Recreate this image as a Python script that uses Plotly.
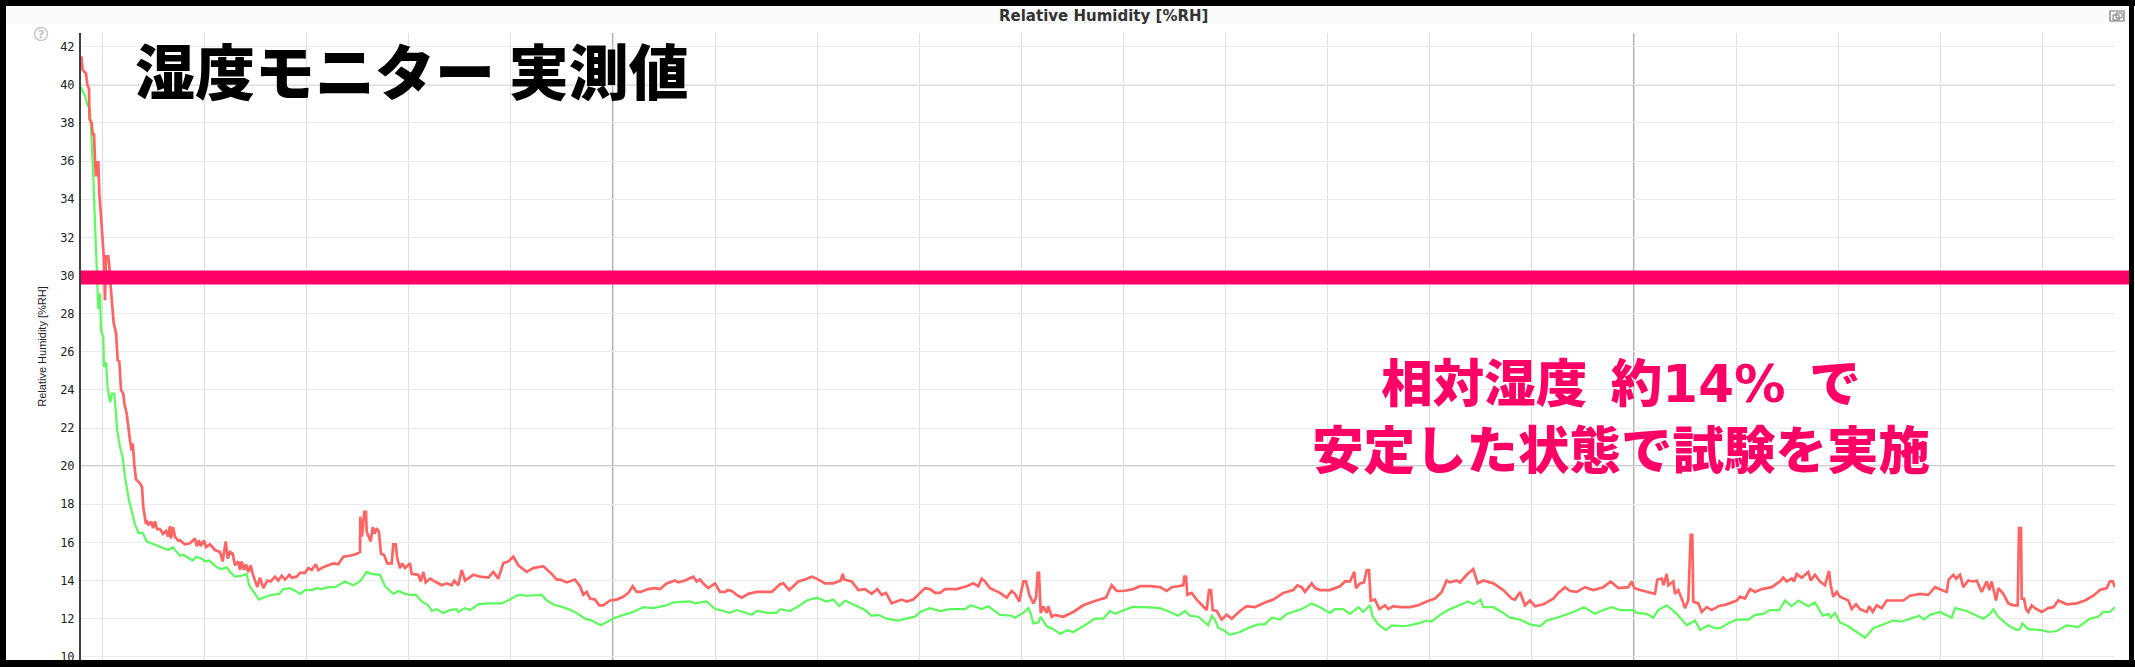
import plotly.graph_objects as go

W, H = 2135, 667
L, R, T, B = 81, 2115, 33, 660
Y_MIN, Y_MAX = 9.83, 42.72

y_ticks = list(range(10, 44, 2))
y_major = [20, 30, 40]
x_major = [613, 1634]
threshold = [29.9]

red = [(81.5,41.5),(82,41.2),(82.5,40.8),(84,40.7),(86,40.6),(87.3,40.0),(89,39.8),(89.5,38.2),(91.7,38.0),(92.7,37.4),(94,37.4),(95,36.05),(96,35.2),(96.7,36.0),(97.5,35.2),(98.3,36.0),(99.3,34.3),(101,33.1),(102.7,32.0),(104,30.8),(105,28.7),(106,31.0),(108.3,31.0),(109.3,30.5),(110.7,29.4),(112.3,28.35),(113.7,27.5),(116,27.0),(117.7,25.55),(119.3,25.5),(121,24.0),(123.3,23.8),(124.3,23.3),(126.7,22.75),(128.3,22.0),(130,21.35),(131.7,20.8),(132.7,21.2),(134.3,20.1),(136,19.3),(140,19.1),(142,18.9),(143.3,17.85),(145.7,17.05),(147,17.1),(148.3,16.9),(151,17.1),(153,16.75),(155,17.1),(157,16.7),(160,16.7),(163,16.45),(166,16.6),(168,16.3),(170,16.85),(171,16.2),(173,16.8),(175,16.3),(178,16.1),
(180,16.1),(185,15.9),(190,15.95),(195,16.2),(196.7,15.8),(199,16.1),(200.7,15.8),(204,16.1),(206,15.75),(210,15.9),(215,15.6),(220,15.5),(222.7,15.0),(225.7,16.05),(227.7,15.15),(230,15.5),(232.7,15.4),(235,14.8),(238.3,15.0),(240,14.55),(241.7,15.0),(244,14.55),(246,14.85),(248.3,14.45),(250.7,14.8),(252.7,14.35),(255,14.0),(257.3,13.65),(260,14.15),(263.3,13.6),(267.3,14.0),(270.7,13.95),(275,14.2),(278.3,14.0),(281.7,14.25),(285,14.05),(289.3,14.3),(291.7,14.15),(296.7,14.2),(300,14.4),(305,14.4),(308.3,14.65),(311.7,14.55),(315.7,14.85),(318.3,14.55),(323.3,14.7),(328.3,14.8),(333.3,14.9),(338.3,14.85),(343.3,15.25),(350,15.3),(356.7,15.4),(360,15.5),(360.3,17.35),(362,16.3),(363,16.9),(364.3,17.6),(366,17.6),(366.7,16.55),(370.7,16.05),(372.7,16.8),(374.7,16.45),(376.7,16.75),(379,16.55),(381,15.4),(384,15.35),(387.3,14.9),(391.7,14.9),(393.3,15.9),(395.7,15.9),(397.3,15.15),(400,14.65),(402.3,14.9),(405,14.65),(410,14.9),(411.7,14.35),(418.3,14.3),(420.7,13.95),(423.3,14.45),(425.7,13.9),(430,14.1),(435,13.95),(441.7,13.75),(446.7,13.85),(451.7,13.75),(454.3,14.0),(458.3,13.75),(461.7,14.55),(465,14.0),(473.3,14.3),(480,14.2),(488.3,14.15),(493.3,14.45),(498.3,14.1),(503.3,14.9),(508.3,15.0),(513.3,15.25),(518.3,14.8),(526.7,14.45),(533.3,14.65),(543.3,14.75),(551.7,14.35),(556.7,14.05),
(560,14.05),(566.7,13.9),(575,14.05),(580,13.7),(583.3,13.25),(586.7,13.4),(590,13.05),(595,13.0),(599.3,12.7),(603.3,12.7),(610,12.95),(616.7,13.0),(623.3,13.15),(628.3,13.35),(632.7,13.7),(636.7,13.4),(640.7,13.4),(648.3,13.55),(655,13.6),(660,13.55),(666.7,13.85),(675,14.0),(678.3,13.9),(685,14.0),(693.3,14.2),(696.7,13.95),(700,14.05),(704,13.8),(708.3,13.6),(715,13.85),(720,13.4),(725,13.4),(728,13.5),(731.7,13.45),(736.7,13.25),(741.7,13.1),(748.3,13.3),(756.7,13.4),(763.3,13.4),(771.7,13.4),(780,13.8),(783.3,13.85),(789.3,13.5),(798.3,13.95),(805,14.05),(811.7,14.2),(816.7,14.1),(825,13.85),(833.3,13.85),(840.7,14.0),(842.7,14.35),(844.3,14.05),(851.7,13.95),(858.3,13.5),(865,13.55),(871.7,13.3),(877.3,13.55),(881.7,13.25),(886,13.35),(891.7,12.8),(901.7,13.0),(906.7,12.9),(913.3,13.0),(918.3,13.25),(925,13.6),(930,13.55),(935,13.35),
(940,13.35),(945,13.55),(956.7,13.55),(966.7,13.7),(973.3,13.85),(978.3,13.7),(981.7,14.1),(985,13.95),(990,13.6),(1000,13.35),(1006.7,13.1),(1011.7,13.45),(1015,13.3),(1019.3,12.9),(1023.3,13.95),(1026,13.95),(1029.3,13.25),(1033.3,12.8),(1036,13.1),(1037.7,14.4),(1039,14.4),(1040.7,12.3),(1043.3,12.65),(1046.7,12.3),(1048.3,12.65),(1051.7,12.1),(1055,12.2),(1063.3,12.1),(1073.3,12.35),(1083.3,12.7),(1093.3,12.9),(1106,13.1),(1111.7,13.75),(1116.7,13.45),(1123.3,13.45),(1133.3,13.55),(1140,13.7),(1150,13.7),(1160,13.65),(1166.7,13.45),(1171.7,13.65),(1183.3,13.75),(1184.3,14.2),(1186,14.2),(1187.3,13.25),(1191.7,13.35),(1196.7,13.0),(1206.7,12.45),(1209,13.5),(1211,13.5),(1212.7,12.45),(1216.7,12.4),(1221.7,11.95),(1226.7,12.2),(1231.7,12.0),(1240,12.4),(1246.7,12.65),(1255,12.6),(1265,12.85),(1273.3,13.0),(1283.3,13.35),(1293.3,13.5),(1297.3,13.75),(1301.7,13.65),(1305,13.4),(1311.7,13.85),(1315,13.6),
(1320,13.5),(1330,13.5),(1340,13.7),(1345,13.95),(1350,13.95),(1354.3,14.45),(1356,13.6),(1360,13.85),(1364,13.9),(1366.7,14.55),(1369,14.55),(1370.7,12.95),(1375,13.0),(1379.3,12.5),(1385,12.7),(1388.3,12.5),(1393.3,12.65),(1400,12.6),(1410,12.6),(1418.3,12.7),(1426.7,12.9),(1435,13.05),(1441.7,13.4),(1446.7,14.0),(1450,13.9),(1456.7,14.0),(1460,13.9),(1466.7,14.3),(1473.3,14.6),(1477.7,13.85),(1483.3,14.0),(1493.3,13.85),(1503.3,13.5),(1511.7,13.05),(1515,13.0),(1520,13.4),(1525,12.7),(1530,12.95),(1535,12.65),(1543.3,12.75),(1553.3,13.05),(1558.3,13.35),(1565,13.65),(1570,13.45),(1576.7,13.4),(1585,13.65),(1593.3,13.5),(1603.3,13.65),(1610.7,13.95),(1618.3,13.6),(1628.3,13.65),(1631.7,13.95),(1634.3,13.6),(1640,13.5),(1648.3,13.4),(1655,13.3),(1657.3,14.05),(1661.7,14.1),(1663.5,13.75),(1666.7,14.35),(1668.3,13.75),(1673.3,13.95),(1675,13.3),(1678.3,13.5),(1681.7,13.05),(1685,12.55),(1688.3,12.95),(1690.7,16.4),(1692.3,16.4),(1693.3,12.9),(1698.3,12.8),(1701.7,12.35),(1706.7,12.6),(1711.7,12.45),(1718.3,12.65),
(1726.7,12.75),(1736.7,12.95),(1740,13.15),(1745,13.05),(1750,13.55),(1755,13.4),(1761.7,13.55),(1771.7,13.65),(1780,13.95),(1783.3,14.15),(1786.7,13.95),(1791.7,14.1),(1794,13.95),(1796.7,14.35),(1801.7,14.15),(1808.3,14.45),(1810.7,14.0),(1815,14.3),(1820,13.95),(1825,13.75),(1826.7,14.1),(1829,14.5),(1830.7,13.75),(1833.3,13.15),(1836.7,13.4),(1840,13.15),(1848.3,12.95),(1851.7,12.5),(1856,12.75),(1860,12.5),(1866.7,12.35),(1869.3,12.65),(1872.7,12.35),(1876.7,12.7),(1881.7,12.55),(1886.7,12.95),(1893.3,12.95),(1903.3,12.95),(1910,13.2),(1920,13.3),(1928.3,13.25),(1935,13.65),(1941.7,13.5),(1946.7,13.4),(1948.7,14.05),(1953.3,14.3),(1956,14.1),(1960,14.3),(1963.3,13.65),(1968.3,14.0),(1973.3,13.95),(1976.7,14.0),(1981.7,13.4),(1986.7,13.95),(1989.3,13.5),(1991.7,13.95),(1996,12.95),(1998.3,13.6),(2003.3,13.3),(2008.3,12.8),(2013.3,12.7),(2017.7,12.7),(2019,16.75),(2021,16.75),(2021.7,13.05),(2024,13.05),(2026,12.5),(2028.3,12.35),(2031.7,12.7),(2035,12.55),(2041.7,12.35),(2048.3,12.55),(2053.3,12.6),(2058.3,12.95),(2066.7,12.75),(2076.7,12.8),(2085,12.95),(2093.3,13.2),(2100,13.5),(2106.7,13.6),(2110,13.95),(2112.7,13.95),(2115,13.65)]

green = [(81,39.9),(81.7,39.75),(85,39.45),(87.3,38.95),(90,38.75),(91,37.8),(92,36.15),(93.3,35.2),(94,34.15),(95,32.65),(96,31.75),(97.3,29.4),(98.3,28.25),(100,29.05),(101,27.1),(103.3,26.8),(104,25.2),(106,25.45),(107.7,24.05),(110,23.35),(112,23.8),(114.3,23.8),(116,22.9),(117.3,21.85),(120,21.0),(122.7,20.45),(125,19.4),(126.7,18.9),(129,18.2),(131.7,17.65),(135,16.95),(138.3,16.5),(142.7,16.5),(146.7,16.05),(151.7,15.95),(160,15.8),(168.3,15.6),(172.7,15.75),(176.7,15.5),(180,15.3),
(183.3,15.35),(188.3,15.2),(192.7,15.05),(196,15.25),(201.7,15.15),(205,15.0),(209.3,15.05),(213.3,14.85),(218.3,14.65),(221.7,14.6),(226.7,14.7),(230,14.45),(235,14.2),(241.7,14.25),(246.7,14.35),(249,13.75),(253.3,13.4),(259,13.0),(263.3,13.1),(271.7,13.25),(279.3,13.3),(283.3,13.55),(290,13.6),(295,13.45),(300.7,13.3),(305,13.5),(311.7,13.5),(316.7,13.6),(321.7,13.55),(328.3,13.65),(335,13.65),(345,13.95),(353.3,13.75),(360,13.95),(366.7,14.45),(371.7,14.35),(380,14.3),(385,13.7),(393.3,13.3),(398.3,13.45),(405,13.3),(410,13.25),(416,13.25),(421.7,12.9),(428.3,12.7),(431.7,12.4),(436.7,12.5),(443.3,12.3),(450,12.45),(456.7,12.5),(458.3,12.35),(465,12.55),(470,12.45),(478.3,12.75),(486.7,12.8),(501.7,12.8),(510,13.0),(518.3,13.25),(526.7,13.2),(541.7,13.25),(546.7,12.95),(555,12.7),
(560,12.65),(568.3,12.5),(576.7,12.3),(585,12.0),(591.7,11.9),(600.7,11.65),(608.3,11.85),(615,12.05),(626.7,12.25),(633.3,12.35),(643.3,12.6),(653.3,12.55),(666.7,12.7),(673.3,12.85),(690,12.9),(695,12.8),(706.7,12.9),(715,12.5),(723.3,12.4),(730,12.3),(736.7,12.45),(751.7,12.2),(756.7,12.4),(768.3,12.3),(776.7,12.3),(780,12.5),(790,12.4),(800,12.7),(806.7,12.95),(816.7,13.1),(826.7,12.9),(833.3,13.0),(839.3,12.65),(845,12.95),(855,12.7),(865,12.45),(871.7,12.15),(878.3,12.2),(886.7,12.0),(898.3,11.9),(910,12.05),(915,12.1),(920,12.35),(930,12.55),
(940,12.4),(950,12.5),(965,12.5),(970.7,12.7),(981.7,12.5),(988.3,12.65),(1000,12.2),(1011.7,12.15),(1015,12.05),(1023.3,12.3),(1028.3,12.55),(1030.5,12.3),(1033.3,11.75),(1038.3,11.8),(1040.7,12.1),(1046.7,11.6),(1053.3,11.45),(1060.7,11.2),(1066.7,11.4),(1073.3,11.3),(1083.3,11.6),(1095,12.0),(1103.3,12.0),(1110,12.4),(1115,12.25),(1125,12.45),(1131.7,12.6),(1145,12.6),(1160,12.55),(1170,12.35),(1178.3,12.15),(1185,12.4),(1190,12.15),(1198.3,12.1),(1208.3,11.65),(1211.7,12.15),(1215,11.95),(1218.3,11.5),(1223.3,11.4),(1230,11.15),(1240,11.3),(1250,11.55),(1258.3,11.7),(1265,11.7),(1271.7,12.05),(1280,11.95),(1286.7,12.25),(1301.7,12.5),(1311.7,12.8),
(1320,12.6),(1330,12.3),(1335,12.5),(1343.3,12.5),(1350,12.25),(1358.3,12.6),(1363.3,12.35),(1370,12.7),(1372.7,12.1),(1378.3,11.7),(1386,11.4),(1391.7,11.65),(1405,11.6),(1418.3,11.75),(1426.7,11.9),(1431.7,11.85),(1440,12.2),(1448.3,12.45),(1456.7,12.65),(1468.3,12.9),(1473.3,12.75),(1480.7,13.0),(1483.3,12.6),(1493.3,12.6),(1501.7,12.35),(1510,12.05),(1520,11.95),(1530,11.7),(1540,11.6),(1546.7,11.9),(1560,12.1),(1573.3,12.35),(1584,12.6),(1595,12.25),(1603.3,12.45),(1611.7,12.6),(1620,12.45),(1633.3,12.45),(1636.7,12.3),(1646.7,12.25),(1653.3,12.05),(1658.3,12.45),(1666.7,12.7),(1676.7,12.25),(1686.7,11.65),(1695,11.9),(1700,11.4),(1708.3,11.65),(1715,11.5),
(1720,11.5),(1728.3,11.75),(1736.7,11.95),(1748.3,11.95),(1755,12.2),(1763.3,12.25),(1770,12.45),(1779.3,12.45),(1785,12.95),(1791.7,12.65),(1798.3,12.95),(1808.3,12.65),(1815,12.85),(1822.7,12.15),(1828.3,12.25),(1830.7,12.05),(1835,12.3),(1840,11.8),(1848.3,11.6),(1856.7,11.3),(1865,11.0),(1873.3,11.5),(1886.7,11.75),(1893.3,11.9),(1901.7,11.85),(1910,12.0),(1919.3,12.15),(1924,11.95),(1930,12.2),(1940,12.35),(1951.7,12.05),(1955,12.55),(1966.7,12.4),(1983.3,12.0),(1990,12.25),(1993.3,12.5),(1998.3,12.1),(2008.3,11.65),(2016.7,11.4),(2020,11.45),(2022.3,11.75),(2028.3,11.45),(2041.7,11.4),(2048.3,11.3),(2056.7,11.35),(2066.7,11.65),(2078.3,11.55),(2090,12.0),(2098.3,12.1),(2103.3,12.35),(2110,12.35),(2115,12.6)]

red_x = [p[0] for p in red]
red_y = [p[1] for p in red]
green_x = [p[0] for p in green]
green_y = [p[1] for p in green]

title_text = "湿度モニター 実測値"
note_1 = "相対湿度\u00a0\u00a0約<span style=\"font-family:'DejaVu Sans'\">14%</span>\u00a0\u00a0で"
note_2 = "安定した状態で試験を実施"
chart_title = "Relative Humidity [%RH]"

px = lambda v: (v - L) / (R - L)
py = lambda v: (B - v) / (B - T)

fig = go.Figure()
fig.add_trace(go.Scatter(x=green_x, y=green_y, mode="lines", line=dict(color="#5cfb5c", width=2.2), hoverinfo="skip"))
fig.add_trace(go.Scatter(x=red_x, y=red_y, mode="lines", line=dict(color="#ff6464", width=2.7), hoverinfo="skip"))

shapes = []
for v in y_major:
    shapes.append(dict(type="line", layer="below", xref="x", x0=L, x1=R, yref="y", y0=v, y1=v, line=dict(color="#bdbdbd", width=1.5)))
for v in x_major:
    shapes.append(dict(type="line", layer="below", xref="x", x0=v, x1=v, yref="y", y0=Y_MIN, y1=Y_MAX, line=dict(color="#b0b0b0", width=2)))

def rect(x0, y0, x1, y1, fill=None, line=None, lw=0, layer="above"):
    return dict(type="rect", layer=layer, xref="paper", yref="paper", x0=px(x0), x1=px(x1), y0=py(y0), y1=py(y1),
                fillcolor=fill or "rgba(0,0,0,0)", line=dict(color=line or "rgba(0,0,0,0)", width=lw))

shapes += [
    rect(6, 6, 2129, 24, fill="#fafafa"),
    dict(type="line", layer="above", xref="paper", x0=0, x1=px(2129), yref="y", y0=threshold[0], y1=threshold[0], line=dict(color="#ff0066", width=14)),
    rect(0, 0, W, 6, fill="#000000"),
    rect(0, 660, W, H, fill="#000000"),
    rect(0, 0, 6, H, fill="#000000"),
    rect(2129, 0, 2134, H, fill="#000000"),
    dict(type="circle", layer="above", xref="paper", yref="paper", x0=px(34.5), x1=px(47.5), y0=py(27.5), y1=py(40.5), line=dict(color="#c8c8c8", width=1.5)),
    rect(2110, 11, 2124, 21, line="#777777", lw=1.2),
    rect(2113, 15, 2119, 20, line="#777777", lw=1),
    rect(2116, 13, 2122, 18, line="#777777", lw=1),
]

ann = [
    dict(text=title_text, x=px(412), y=py(68), font=dict(size=60, color="#000000", family="Noto Sans CJK JP", weight=900)),
    dict(text=note_1 + "<br>" + note_2, x=px(1621), y=py(413), align="center",
         font=dict(size=51.5, color="#ff0066", family="Noto Sans CJK JP", weight=800)),
    dict(text=chart_title, x=px(1103), y=py(16), font=dict(size=15, color="#333333", family="DejaVu Sans", weight=700)),
    dict(text="?", x=px(41), y=py(34), font=dict(size=11, color="#c0c0c0", family="DejaVu Sans", weight=700)),
]
for a in ann:
    a.update(xref="paper", yref="paper", showarrow=False, xanchor="center", yanchor="middle")

fig.update_layout(
    width=W, height=H, margin=dict(l=L, r=W - R, t=T, b=H - B),
    paper_bgcolor="#ffffff", plot_bgcolor="#ffffff", showlegend=False,
    shapes=shapes, annotations=ann,
    xaxis=dict(range=[L, R], tick0=613, dtick=102.1, showticklabels=False, ticks="", zeroline=False,
               showgrid=True, gridcolor="#dedede", gridwidth=1.2, fixedrange=True),
    yaxis=dict(range=[Y_MIN, Y_MAX], tickvals=y_ticks, ticktext=[str(v) for v in y_ticks], zeroline=False,
               showgrid=True, gridcolor="#ebebeb", gridwidth=1.2, showline=True, linecolor="#404040", linewidth=2,
               tickfont=dict(family="DejaVu Sans Mono", size=12, color="#222222"), ticks="", ticklabelstandoff=2,
               title=dict(text=chart_title, font=dict(family="Liberation Sans", size=11, color="#222222"), standoff=11),
               automargin=False, fixedrange=True),
)
fig.write_html("out.html", config={"displayModeBar": False}, post_script="document.body.style.margin='0';document.body.style.overflow='hidden';")
